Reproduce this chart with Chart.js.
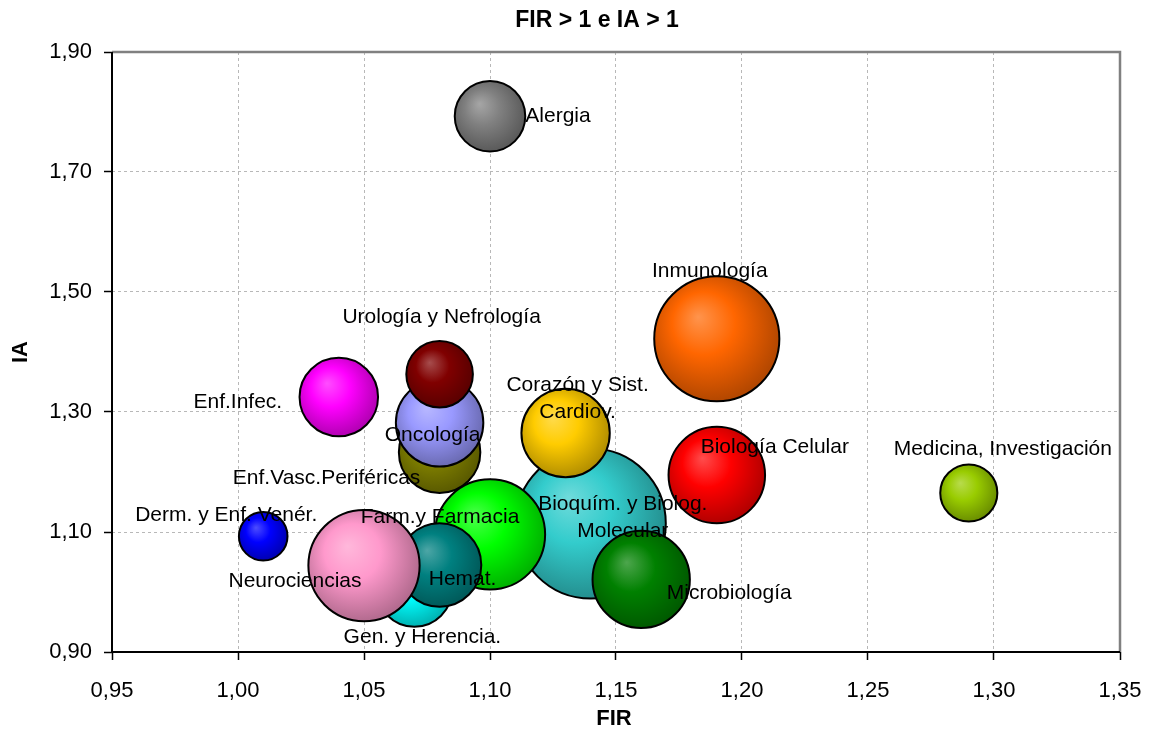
<!DOCTYPE html>
<html>
<head>
<meta charset="utf-8">
<script src="https://cdn.jsdelivr.net/npm/chart.js@4/dist/chart.umd.min.js"></script>
<style>
    html, body { margin: 0; padding: 0; background: #ffffff; }
    #wrap { width: 1152px; height: 733px; }
</style>
</head>
<body>
<div id="wrap"><canvas id="bubbleChart" width="1152" height="733"></canvas></div>
<script>
/* =========================
   DATA
========================= */
const areas = [
    "Bioquím. y Biolog.\nMolecular", "Gen. y Herencia.", "Enf.Vasc.Periféricas", "Oncología",
    "Urología y Nefrología", "Farm.y Farmacia", "Corazón y Sist.\nCardiov.", "Microbiología",
    "Hemat.", "Neurociencias", "Derm. y Enf. Venér.", "Enf.Infec.",
    "Alergia", "Inmunología", "Biología Celular", "Medicina, Investigación"
];
const firValues = [1.14, 1.07, 1.08, 1.08, 1.08, 1.10, 1.13, 1.16, 1.08, 1.05, 1.01, 1.04, 1.10, 1.19, 1.19, 1.29];
const iaValues  = [1.114, 1.005, 1.233, 1.282, 1.363, 1.096, 1.265, 1.021, 1.045, 1.044, 1.093, 1.325, 1.793, 1.422, 1.195, 1.165];
const bubbleSizes = [1000, 253, 295, 340, 197, 540, 347, 421, 309, 550, 105, 274, 221, 696, 414, 145];

const xTicks = [0.95, 1.00, 1.05, 1.10, 1.15, 1.20, 1.25, 1.30, 1.35];
const yTicks = [0.90, 1.10, 1.30, 1.50, 1.70, 1.90];

/* =========================
   STYLE
========================= */
const bubbleColors = [
    "#33cccc", "#00ffff", "#808000", "#9999ff", "#800000", "#00ff00", "#ffcc00", "#008000",
    "#008080", "#ff99cc", "#0000ff", "#ff00ff", "#808080", "#ff6600", "#ff0000", "#99cc00"
];
// label offset from bubble centre (first line), px
const labelOffsets = [
    [32, -21], [8, 46], [-113, 24], [-7, 10], [2, -59], [-50, -19], [12, -50], [88, 12],
    [23, 12], [-69, 14], [-37, -23], [-101, 3], [68, -2], [-7, -70], [58, -30], [34, -46]
];
const MAX_RADIUS = 75;
const FONT = "'Liberation Sans', Arial, sans-serif";

function shade(hex, amt) {
    const n = parseInt(hex.slice(1), 16);
    let r = (n >> 16) & 255, g = (n >> 8) & 255, b = n & 255;
    if (amt > 0) {
        r += (255 - r) * amt; g += (255 - g) * amt; b += (255 - b) * amt;
    } else {
        r *= 1 + amt; g *= 1 + amt; b *= 1 + amt;
    }
    return "rgb(" + Math.round(r) + "," + Math.round(g) + "," + Math.round(b) + ")";
}

function fmt(v) {
    return v.toFixed(2).replace(".", ",");
}

const maxSize = Math.max(...bubbleSizes);
const points = firValues.map((x, i) => ({
    x: x,
    y: iaValues[i],
    r: MAX_RADIUS * Math.sqrt(bubbleSizes[i] / maxSize)
}));

/* =========================
   PLUGINS
========================= */
const frameAndText = {
    id: "frameAndText",
    beforeDatasetsDraw(chart) {
        const { ctx, chartArea: a } = chart;
        ctx.save();
        ctx.strokeStyle = "#808080";
        ctx.lineWidth = 2.5;
        ctx.beginPath();
        ctx.moveTo(a.left, a.top);
        ctx.lineTo(a.right, a.top);
        ctx.lineTo(a.right, a.bottom);
        ctx.stroke();
        ctx.strokeStyle = "#000";
        ctx.lineWidth = 2;
        ctx.beginPath();
        ctx.moveTo(a.left, a.top);
        ctx.lineTo(a.left, a.bottom);
        ctx.lineTo(a.right, a.bottom);
        ctx.stroke();
        ctx.restore();
    },
    afterDatasetsDraw(chart) {
        const { ctx } = chart;
        const meta = chart.getDatasetMeta(0);
        ctx.save();
        ctx.fillStyle = "#000";
        ctx.textAlign = "center";
        ctx.textBaseline = "middle";
        ctx.font = "21px " + FONT;
        meta.data.forEach((el, i) => {
            const lines = areas[i].split("\n");
            lines.forEach((ln, k) => {
                ctx.fillText(ln, el.x + labelOffsets[i][0], el.y + labelOffsets[i][1] + 2 + k * 27);
            });
        });

        // title and axis titles
        ctx.font = "bold 23px " + FONT;
        ctx.fillText("FIR > 1 e IA > 1", 597, 21);
        ctx.font = "bold 22px " + FONT;
        ctx.fillText("FIR", 614, 719);
        ctx.translate(21, 352);
        ctx.rotate(-Math.PI / 2);
        ctx.fillText("IA", 0, 0);
        ctx.restore();
    }
};

/* =========================
   CHART
========================= */
const canvas = document.getElementById("bubbleChart");

new Chart(canvas.getContext("2d"), {
    type: "bubble",
    data: {
        datasets: [{
            data: points,
            borderColor: "#000000",
            borderWidth: 2,
            hoverBorderWidth: 2,
            backgroundColor: function (c) {
                const chart = c.chart;
                const base = bubbleColors[c.dataIndex];
                if (!chart.chartArea || c.type !== "data") return base;
                const p = c.raw;
                const cx = chart.scales.x.getPixelForValue(p.x);
                const cy = chart.scales.y.getPixelForValue(p.y);
                const r = p.r;
                const g = chart.ctx.createRadialGradient(cx - r * 0.3, cy - r * 0.35, 0, cx - r * 0.1, cy - r * 0.12, r * 1.12);
                g.addColorStop(0, shade(base, 0.3));
                g.addColorStop(0.45, base);
                g.addColorStop(1, shade(base, -0.3));
                return g;
            }
        }]
    },
    options: {
        responsive: false,
        animation: false,
        events: [],
        layout: { autoPadding: false, padding: { left: 0, top: 52, right: 32, bottom: 0 } },
        plugins: {
            legend: { display: false },
            tooltip: { enabled: false }
        },
        scales: {
            x: {
                type: "linear",
                min: xTicks[0],
                max: xTicks[xTicks.length - 1],
                afterBuildTicks: s => { s.ticks = xTicks.map(v => ({ value: v })); },
                afterFit: s => { s.height = 81; s.paddingLeft = 0; s.paddingRight = 0; },
                ticks: {
                    padding: 18,
                    color: "#000",
                    font: { family: FONT, size: 22 },
                    callback: v => fmt(v)
                },
                grid: {
                    color: "#b8b8b8",
                    lineWidth: 1,
                    drawTicks: true,
                    tickLength: 8,
                    tickColor: "#000",
                    tickWidth: 1.5
                },
                border: { display: false, dash: [3, 3] }
            },
            y: {
                type: "linear",
                min: yTicks[0],
                max: yTicks[yTicks.length - 1],
                afterBuildTicks: s => { s.ticks = yTicks.map(v => ({ value: v })); },
                afterFit: s => { s.width = 112; s.paddingTop = 0; s.paddingBottom = 0; },
                ticks: {
                    padding: 12,
                    color: "#000",
                    font: { family: FONT, size: 22 },
                    callback: v => fmt(v)
                },
                grid: {
                    color: "#b8b8b8",
                    lineWidth: 1,
                    drawTicks: true,
                    tickLength: 8,
                    tickColor: "#000",
                    tickWidth: 1.5
                },
                border: { display: false, dash: [3, 3] }
            }
        }
    },
    plugins: [frameAndText]
});
</script>
</body>
</html>
